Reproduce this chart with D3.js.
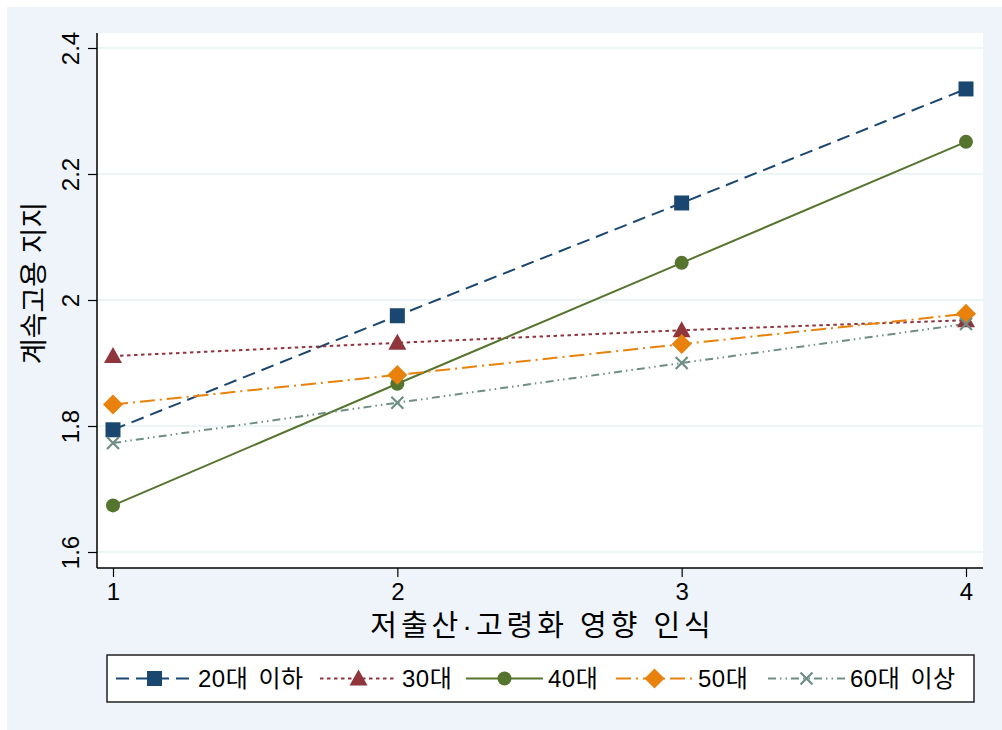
<!DOCTYPE html>
<html>
<head>
<meta charset="utf-8">
<script src="https://cdn.jsdelivr.net/npm/d3@7"></script>
<style>
  html, body { margin: 0; padding: 0; background: #ffffff; }
  svg { display: block; }
  text { font-family: "Liberation Sans", "Noto Sans CJK KR", sans-serif; fill: #000; }
</style>
</head>
<body>
<svg id="chart" width="1002" height="730"></svg>
<script>
// Perception level (x) and support for continued employment (y) by age group
const categories = [1, 2, 3, 4];
const seriesNames = ["20대 이하", "30대", "40대", "50대", "60대 이상"];
const age20 = [1.794, 1.975, 2.154, 2.335];
const age30 = [1.911, 1.932, 1.952, 1.968];
const age40 = [1.674, 1.867, 2.059, 2.251];
const age50 = [1.834, 1.881, 1.930, 1.978];
const age60 = [1.773, 1.837, 1.900, 1.962];
const yTicks = [1.6, 1.8, 2, 2.2, 2.4];
const xTicks = [1, 2, 3, 4];
const xTitle = "저출산·고령화 영향 인식";
const yTitle = "계속고용 지지";

const seriesValues = [age20, age30, age40, age50, age60];

// Styling per series
const styles = [
  { color: "#1a476f", dash: "13,7",             symbol: "square"   },
  { color: "#90353b", dash: "3.5,3.5",          symbol: "triangle" },
  { color: "#55752f", dash: null,               symbol: "circle"   },
  { color: "#e8820c", dash: "15,5,2,5",         symbol: "diamond"  },
  { color: "#6e8e84", dash: "8,4,1.5,4,1.5,4",  symbol: "cross"    }
];

const W = 1002, H = 730;
const plot = { left: 97, right: 983, top: 33, bottom: 568 };

const svg = d3.select("#chart");

// Graph region background
svg.append("rect")
  .attr("x", 7).attr("y", 7).attr("width", W - 7).attr("height", H - 7)
  .attr("fill", "#eef4f9");

// Plot region
svg.append("rect")
  .attr("x", plot.left).attr("y", plot.top)
  .attr("width", plot.right - plot.left).attr("height", plot.bottom - plot.top)
  .attr("fill", "#ffffff");

const x = d3.scaleLinear().domain([1, 4]).range([113, 966]);
const y = d3.scaleLinear().domain([1.6, 2.4]).range([552, 48]);

// Horizontal grid lines
svg.append("g").selectAll("line").data(yTicks).join("line")
  .attr("x1", plot.left).attr("x2", plot.right)
  .attr("y1", d => y(d)).attr("y2", d => y(d))
  .attr("stroke", "#e6f2f2").attr("stroke-width", 1.5);

// Y axis
const yAxis = svg.append("g")
  .attr("transform", `translate(${plot.left},0)`)
  .call(d3.axisLeft(y).tickValues(yTicks).tickFormat(d3.format("")).tickSize(9).tickPadding(0));
yAxis.select(".domain").remove();
yAxis.selectAll(".tick line").attr("stroke", "#000").attr("stroke-width", 1.2);
yAxis.selectAll(".tick text")
  .attr("x", null).attr("dy", null)
  .attr("transform", "translate(-18,0) rotate(-90)")
  .attr("text-anchor", "middle")
  .style("font-size", "24px");
svg.append("line")
  .attr("x1", plot.left).attr("x2", plot.left)
  .attr("y1", plot.top).attr("y2", plot.bottom)
  .attr("stroke", "#000").attr("stroke-width", 1.5);

// X axis
const xAxis = svg.append("g")
  .attr("transform", `translate(0,${plot.bottom})`)
  .call(d3.axisBottom(x).tickValues(xTicks).tickFormat(d3.format("d")).tickSize(9).tickPadding(6));
xAxis.select(".domain").remove();
xAxis.selectAll(".tick line").attr("stroke", "#000").attr("stroke-width", 1.2);
xAxis.selectAll(".tick text").style("font-size", "24px");
svg.append("line")
  .attr("x1", plot.left).attr("x2", plot.right)
  .attr("y1", plot.bottom).attr("y2", plot.bottom)
  .attr("stroke", "#000").attr("stroke-width", 1.5);

// Axis titles
svg.append("text")
  .attr("x", (x(1) + x(4)) / 2 + 3).attr("y", 636)
  .attr("text-anchor", "middle")
  .style("font-size", "29px")
  .style("letter-spacing", "4px")
  .text(xTitle);

svg.append("text")
  .attr("transform", `translate(44,${283}) rotate(-90)`)
  .attr("text-anchor", "middle")
  .style("font-size", "28px")
  .text(yTitle);

// Marker drawing
function drawMarker(g, symbol, color, cx, cy) {
  if (symbol === "square") {
    g.append("rect").attr("x", cx - 7.5).attr("y", cy - 7.5).attr("width", 15).attr("height", 15).attr("fill", color);
  } else if (symbol === "triangle") {
    g.append("path").attr("d", `M${cx},${cy - 9} L${cx + 9},${cy + 7} L${cx - 9},${cy + 7} Z`).attr("fill", color);
  } else if (symbol === "circle") {
    g.append("circle").attr("cx", cx).attr("cy", cy).attr("r", 7).attr("fill", color);
  } else if (symbol === "diamond") {
    g.append("path").attr("d", `M${cx},${cy - 10} L${cx + 10},${cy} L${cx},${cy + 10} L${cx - 10},${cy} Z`).attr("fill", color);
  } else if (symbol === "cross") {
    g.append("path").attr("d", `M${cx - 6},${cy - 6} L${cx + 6},${cy + 6} M${cx + 6},${cy - 6} L${cx - 6},${cy + 6}`)
      .attr("stroke", color).attr("stroke-width", 2.2).attr("fill", "none");
  }
}

// Series lines and markers
const line = d3.line().x((d, i) => x(categories[i])).y(d => y(d));
const seriesG = svg.append("g");
seriesValues.forEach((vals, s) => {
  const st = styles[s];
  seriesG.append("path")
    .attr("d", line(vals))
    .attr("fill", "none")
    .attr("stroke", st.color)
    .attr("stroke-width", 2)
    .attr("stroke-dasharray", st.dash);
});
seriesValues.forEach((vals, s) => {
  const st = styles[s];
  const g = seriesG.append("g");
  vals.forEach((v, i) => drawMarker(g, st.symbol, st.color, x(categories[i]), y(v)));
});

// Legend
const legendBox = { x: 107, y: 655, w: 867, h: 47 };
const legendKeyX = [116, 320, 466, 616, 768];
const keyW = 77;
const legend = svg.append("g");
legend.append("rect")
  .attr("x", legendBox.x).attr("y", legendBox.y)
  .attr("width", legendBox.w).attr("height", legendBox.h)
  .attr("fill", "#ffffff").attr("stroke", "#222").attr("stroke-width", 1.5);
const ly = legendBox.y + legendBox.h / 2;
seriesNames.forEach((name, s) => {
  const st = styles[s];
  const x0 = legendKeyX[s];
  const g = legend.append("g");
  g.append("line")
    .attr("x1", x0).attr("x2", x0 + keyW)
    .attr("y1", ly).attr("y2", ly)
    .attr("stroke", st.color).attr("stroke-width", 2)
    .attr("stroke-dasharray", st.dash);
  drawMarker(g, st.symbol, st.color, x0 + keyW / 2, ly);
  g.append("text")
    .attr("x", x0 + keyW + 5).attr("y", ly)
    .attr("dominant-baseline", "central")
    .style("font-size", "24px")
    .style("letter-spacing", "0.5px")
    .style("word-spacing", "3px")
    .text(name);
});
</script>
</body>
</html>
